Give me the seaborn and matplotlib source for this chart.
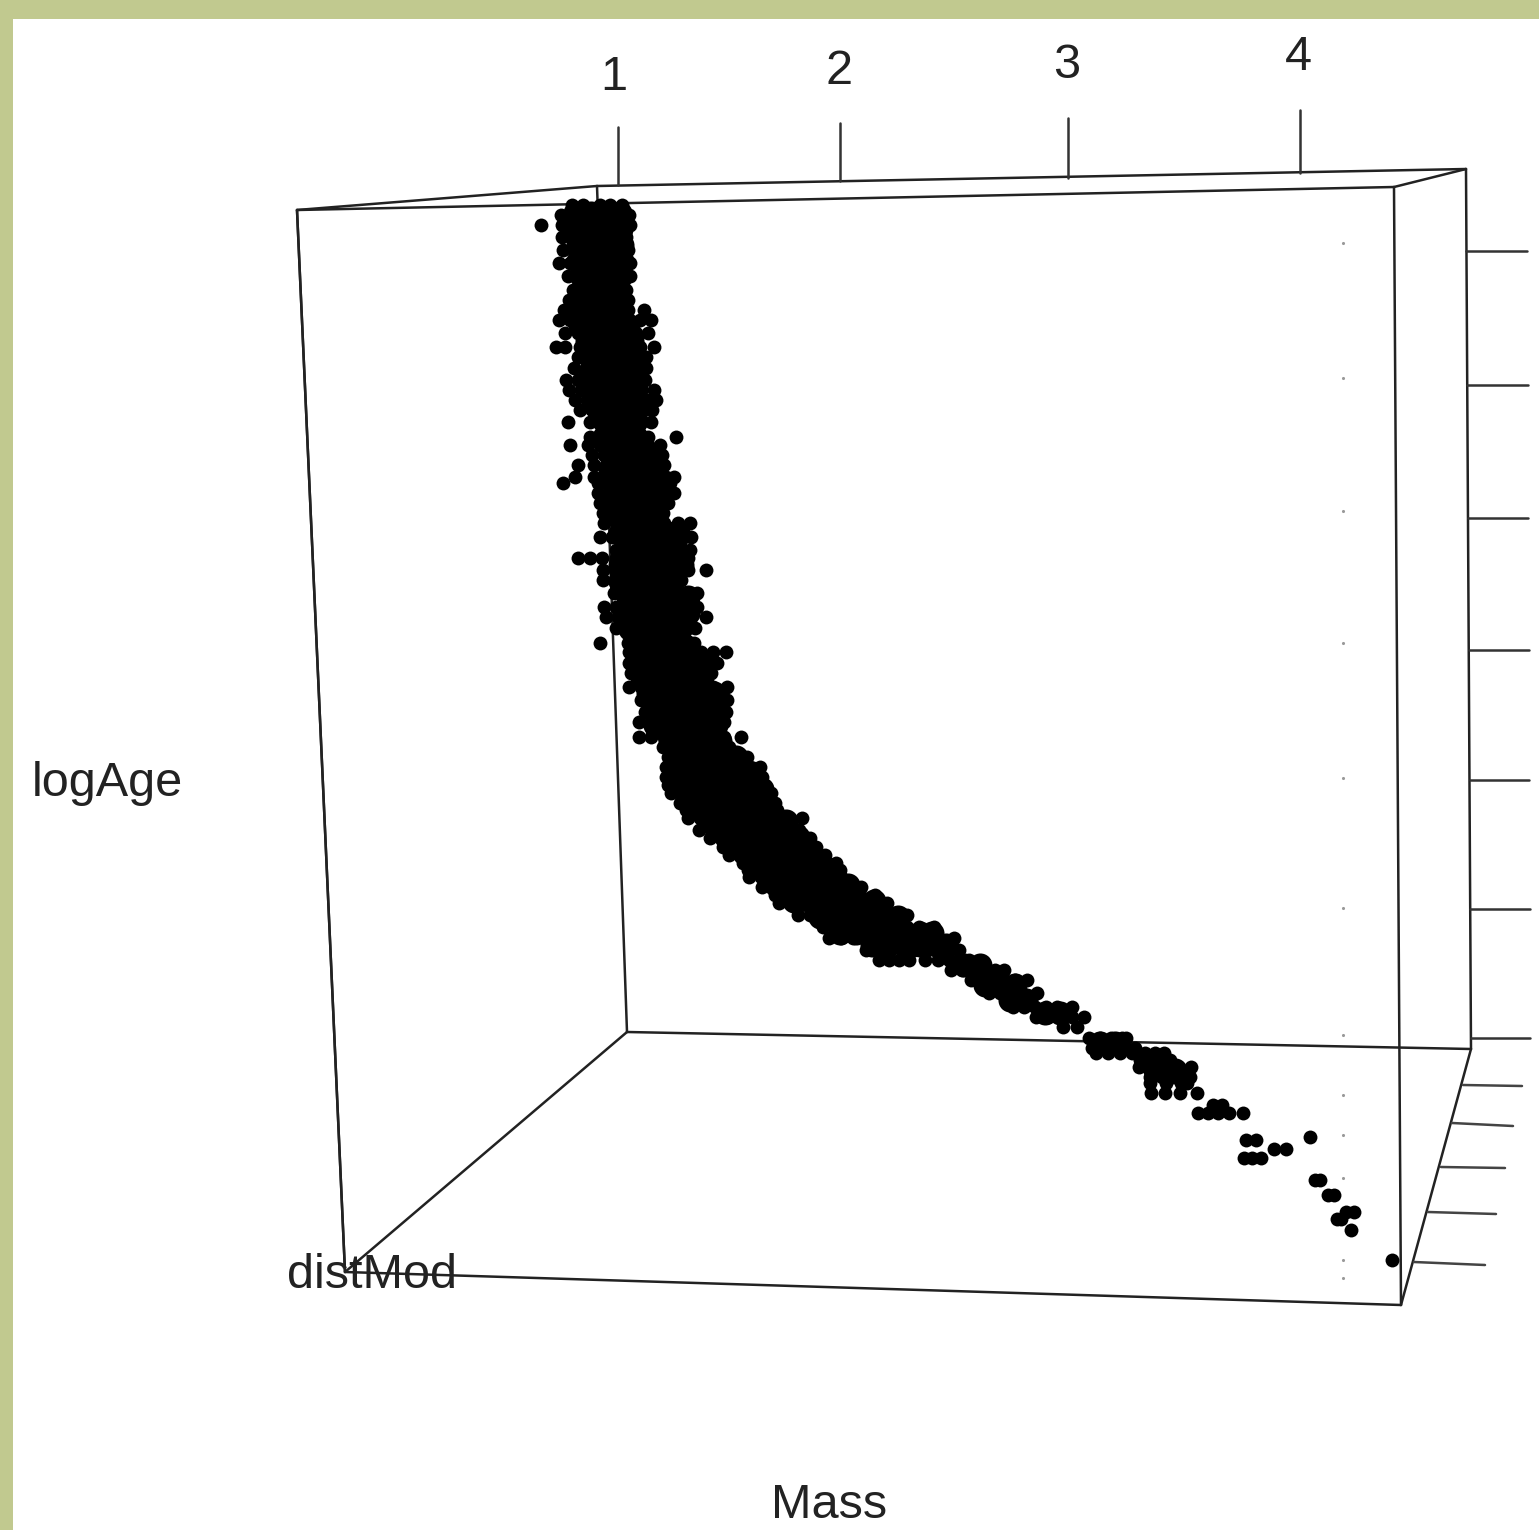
import pandas as pd
import matplotlib
matplotlib.use("Agg")
import matplotlib.pyplot as plt
import seaborn as sns

# Projected positions (the 3D view is flat here)
age_rows = [
    205, 215, 225, 237, 250, 263, 276, 290, 300, 310, 320, 333, 347, 357, 368, 380, 390, 400, 410, 422,
    437, 445, 455, 465, 477, 483, 493, 503, 513, 523, 537, 550, 558, 570, 580, 593, 607, 617, 628, 643,
    652, 663, 673, 687, 700, 712, 722, 737, 747, 757, 767, 777, 785, 793, 803, 810, 818, 830, 838, 847,
    855, 863, 870, 877, 887, 895, 903, 915, 927, 938, 950, 960, 970, 980, 993, 1007, 1017, 1027, 1038, 1048,
    1053, 1060, 1067, 1077, 1083, 1093, 1105, 1113, 1137, 1140, 1149, 1158, 1180, 1195, 1212, 1219, 1230, 1260,
]
mass_rows = [
    [572, 583, 600, 610, 622],
    [561, 571, 581, 591, 601, 611, 621, 629],
    [541, 562, 572, 583, 593, 603, 613, 623, 630],
    [562, 573, 584, 595, 606, 617, 626],
    [563, 574, 585, 596, 607, 618, 628],
    [559, 570, 581, 592, 603, 614, 625, 630],
    [568, 579, 590, 601, 612, 623, 630],
    [573, 584, 595, 606, 617, 626],
    [569, 580, 591, 602, 613, 624, 628],
    [564, 575, 586, 597, 608, 619, 628, 644],
    [559, 570, 581, 592, 603, 614, 625, 640, 651],
    [565, 578, 590, 602, 614, 626, 636, 648],
    [556, 565, 580, 592, 604, 616, 628, 640, 654],
    [578, 590, 602, 614, 626, 638, 646],
    [574, 586, 598, 610, 622, 634, 646],
    [566, 578, 590, 602, 614, 626, 638, 645],
    [569, 581, 593, 605, 617, 629, 641, 654],
    [575, 587, 599, 611, 623, 635, 647, 656],
    [580, 592, 604, 616, 628, 640, 652],
    [568, 590, 602, 614, 626, 638, 651],
    [590, 602, 614, 626, 638, 648, 676],
    [570, 588, 600, 612, 624, 636, 648, 660],
    [592, 604, 616, 628, 640, 652, 662],
    [578, 594, 606, 618, 630, 642, 654, 664],
    [575, 594, 606, 618, 630, 642, 654, 666, 674],
    [563, 598, 610, 622, 634, 646, 658, 670],
    [598, 610, 622, 634, 646, 658, 670, 674],
    [600, 612, 624, 636, 648, 660, 668],
    [603, 615, 627, 639, 651, 663],
    [604, 616, 628, 640, 652, 664, 678, 690],
    [600, 612, 624, 636, 648, 660, 672, 684, 691],
    [616, 628, 640, 652, 664, 676, 690],
    [578, 590, 602, 616, 628, 640, 652, 664, 676, 688],
    [603, 615, 627, 639, 651, 663, 675, 688, 706],
    [603, 615, 627, 639, 651, 663, 675, 681],
    [614, 626, 638, 650, 662, 674, 686, 697],
    [604, 616, 628, 640, 652, 664, 676, 688, 697],
    [606, 618, 630, 642, 654, 666, 678, 690, 706],
    [616, 628, 640, 652, 664, 676, 688, 695],
    [600, 628, 640, 652, 664, 676, 688, 694],
    [629, 641, 653, 665, 677, 689, 701, 713, 726],
    [629, 641, 653, 665, 677, 689, 701, 713, 717],
    [631, 643, 655, 667, 679, 691, 703, 711],
    [629, 641, 653, 665, 677, 689, 701, 713, 727],
    [641, 653, 665, 677, 689, 701, 713, 727],
    [645, 657, 669, 681, 693, 705, 717, 726],
    [639, 651, 663, 675, 687, 699, 711, 724],
    [639, 651, 664, 676, 688, 700, 712, 724, 741],
    [663, 675, 687, 699, 711, 723, 729],
    [668, 680, 692, 704, 716, 728, 740, 747],
    [666, 678, 690, 702, 714, 726, 738, 750, 760],
    [666, 678, 690, 702, 714, 726, 738, 750, 762],
    [668, 680, 692, 704, 716, 728, 740, 752, 764],
    [671, 683, 695, 707, 719, 731, 743, 755, 771],
    [680, 692, 704, 716, 728, 740, 752, 764, 775],
    [686, 698, 710, 722, 734, 746, 758, 770, 777],
    [688, 700, 712, 724, 736, 748, 760, 772, 784, 802],
    [699, 711, 723, 735, 747, 759, 771, 783, 799],
    [710, 722, 734, 746, 758, 770, 782, 794, 810],
    [723, 735, 747, 759, 771, 783, 795, 807, 816],
    [729, 741, 753, 765, 777, 789, 801, 813, 825],
    [743, 755, 767, 779, 791, 803, 815, 827, 836],
    [748, 760, 772, 784, 796, 808, 820, 832, 840],
    [749, 761, 773, 785, 797, 809, 821, 833, 841],
    [762, 774, 786, 798, 810, 822, 834, 846, 861],
    [775, 787, 799, 811, 823, 835, 847, 859, 875],
    [779, 791, 803, 815, 827, 839, 851, 863, 875, 887],
    [798, 810, 822, 834, 846, 858, 870, 882, 894, 907],
    [823, 835, 847, 859, 871, 883, 895, 907, 919, 934],
    [829, 841, 853, 865, 877, 889, 901, 913, 925, 937, 954],
    [866, 878, 890, 902, 914, 926, 938, 950, 959],
    [879, 889, 899, 909, 925, 938, 949, 959, 969],
    [951, 962, 973, 984, 995, 1004],
    [971, 982, 993, 1004, 1015, 1027],
    [989, 1000, 1011, 1022, 1037],
    [1013, 1024, 1035, 1046, 1057, 1072],
    [1036, 1048, 1060, 1072, 1084],
    [1063, 1077],
    [1089, 1100, 1111, 1122, 1126],
    [1092, 1103, 1114, 1125, 1135],
    [1096, 1108, 1120, 1132, 1145, 1155, 1164],
    [1140, 1152, 1164, 1170],
    [1139, 1150, 1165, 1178, 1191],
    [1150, 1162, 1174, 1186, 1190],
    [1150, 1166, 1181, 1187],
    [1151, 1165, 1180, 1197],
    [1213, 1222],
    [1198, 1208, 1218, 1229, 1243],
    [1310],
    [1246, 1256],
    [1274, 1286],
    [1244, 1252, 1261],
    [1315, 1320],
    [1328, 1334],
    [1346, 1354],
    [1337, 1341],
    [1351],
    [1392],
]

# Where the stars pile up solid, middle of the band
dense_age = [
    213, 229, 245, 261, 277, 293, 309, 325, 341, 357, 373, 389, 405, 421, 437, 453, 469, 485, 501, 517,
    533, 549, 565, 581, 597, 613, 629, 645, 661, 677, 693, 709, 725, 741, 757, 773, 789, 805, 821, 837,
    853, 869, 885, 901, 917, 933, 945, 965, 985, 1000, 1013, 1043, 1070,
]
dense_mass = [
    [575, 591, 607, 620],
    [575, 591, 607, 621],
    [578, 594, 610, 622],
    [578, 594, 610, 622],
    [582, 598, 614, 620],
    [582, 598, 614],
    [580, 596, 612],
    [580, 596, 612, 628],
    [587, 603, 619, 632],
    [590, 606, 622, 636],
    [590, 606, 622, 636],
    [590, 606, 622, 636],
    [595, 611, 627, 642],
    [604, 620, 636],
    [604, 620, 636],
    [610, 626, 644],
    [610, 626, 642, 652],
    [614, 630, 646, 658],
    [614, 630, 646, 656],
    [620, 636, 652],
    [620, 636, 652, 668, 678],
    [628, 644, 660, 676],
    [620, 636, 652, 668, 682],
    [620, 636, 652, 668],
    [628, 644, 660, 676, 688],
    [625, 641, 657, 673, 688],
    [630, 646, 662, 680],
    [640, 656, 672, 684],
    [642, 658, 674, 690, 706],
    [642, 658, 674, 690, 702],
    [648, 664, 680, 696, 714],
    [655, 671, 687, 703, 716],
    [655, 671, 687, 703, 716],
    [670, 686, 702, 720],
    [680, 696, 712, 728, 736],
    [678, 694, 710, 726, 742, 752],
    [684, 700, 716, 732, 748, 762],
    [696, 712, 728, 744, 760, 766],
    [708, 724, 740, 756, 772, 786],
    [726, 742, 758, 774, 790, 798],
    [744, 760, 776, 792, 810],
    [762, 778, 794, 810, 828],
    [776, 792, 808, 824, 848],
    [794, 810, 826, 842, 858, 874],
    [820, 836, 852, 868, 884, 898],
    [840, 856, 872, 888, 904, 920, 932],
    [872, 888, 904, 920, 936, 946],
    [964, 980],
    [985, 1001, 1015],
    [1010, 1026],
    [1045, 1060],
    [1100, 1115],
    [1155, 1175],
]

# Box edges, each as start/end
frame_x0 = [297, 297, 1394, 1401, 345, 297, 1394, 1401, 345, 597, 597, 627, 1466]
frame_y0 = [210, 210, 187, 1305, 1272, 210, 187, 1305, 1272, 186, 186, 1032, 169]
frame_x1 = [1394, 345, 1401, 345, 297, 597, 1466, 1471, 627, 1466, 627, 1471, 1471]
frame_y1 = [187, 1272, 1305, 1272, 210, 186, 169, 1049, 1032, 169, 1032, 1049, 1049]

# Mass axis
mass_tick_x = [618, 840, 1068, 1300]
mass_tick_base = [185, 181, 178, 173]
mass_tick_end = [127, 123, 118, 110]
mass_labels = ["1", "2", "3", "4"]
mass_label_x = [614, 839, 1067, 1298]
mass_label_y = [78, 71, 65, 58]

# logAge ticks on the right side
age_tick_x0 = [1466, 1467, 1468, 1469, 1470, 1470, 1471]
age_tick_x1 = [1527, 1528, 1528, 1529, 1529, 1530, 1530]
age_tick_y = [251, 385, 518, 650, 780, 909, 1038]

# distMod ticks
dist_tick_x0 = [1463, 1452, 1441, 1428, 1414]
dist_tick_y0 = [1085, 1123, 1167, 1212, 1262]
dist_tick_x1 = [1522, 1513, 1505, 1496, 1485]
dist_tick_y1 = [1086, 1126, 1168, 1214, 1265]

# Faint dots down the box near Mass 4
faint_x = [1343, 1343, 1343, 1343, 1343, 1343, 1343, 1343, 1343, 1343, 1343, 1343]
faint_y = [243, 378, 511, 643, 778, 908, 1035, 1095, 1135, 1178, 1260, 1278]

stars = pd.DataFrame(
    [(m, a) for a, row in zip(age_rows, mass_rows) for m in row],
    columns=["Mass", "logAge"]
)
dense = pd.DataFrame(
    [(m, a) for a, row in zip(dense_age, dense_mass) for m in row],
    columns=["Mass", "logAge"]
)

sns.set_theme(style="white")
plt.rcParams["font.family"] = ["Liberation Sans", "DejaVu Sans"]

fig = plt.figure(figsize=(15.39, 15.30), dpi=100, facecolor="#c1c98f")
ax = fig.add_axes([13 / 1539, 0, 1 - 13 / 1539, 1 - 19 / 1530], facecolor="white")

# Box and tick lines
for x0, y0, x1, y1 in zip(frame_x0, frame_y0, frame_x1, frame_y1):
    ax.plot([x0, x1], [y0, y1], color="#222222", lw=1.8)
for x, y0, y1 in zip(mass_tick_x, mass_tick_base, mass_tick_end):
    ax.plot([x, x], [y0, y1], color="#333333", lw=1.8)
for x0, x1, y in zip(age_tick_x0, age_tick_x1, age_tick_y):
    ax.plot([x0, x1], [y, y], color="#333333", lw=1.8)
for x0, y0, x1, y1 in zip(dist_tick_x0, dist_tick_y0, dist_tick_x1, dist_tick_y1):
    ax.plot([x0, x1], [y0, y1], color="#444444", lw=1.8)

# Stars sit on top of the box lines
sns.scatterplot(x=faint_x, y=faint_y, color="#999999", s=5, linewidth=0, ax=ax)
sns.scatterplot(data=dense, x="Mass", y="logAge", color="black", s=300, linewidth=0, zorder=3, ax=ax)
sns.scatterplot(data=stars, x="Mass", y="logAge", color="black", s=100, linewidth=0, zorder=3, ax=ax)

for x, y, label in zip(mass_label_x, mass_label_y, mass_labels):
    ax.text(x, y, label, fontsize=35, ha="center", va="center", color="#222222")
ax.text(107, 783, "logAge", fontsize=35, ha="center", va="center", color="#222222")
ax.text(372, 1276, "distMod", fontsize=35, ha="center", va="center", color="#222222")
ax.text(829, 1506, "Mass", fontsize=35, ha="center", va="center", color="#222222")

ax.set_xlim(13, 1539)
ax.set_ylim(1530, 19)
ax.set_xlabel("")
ax.set_ylabel("")
ax.set_xticks([])
ax.set_yticks([])
sns.despine(ax=ax, left=True, bottom=True)

fig.savefig("out.png", dpi=100, facecolor=fig.get_facecolor())
